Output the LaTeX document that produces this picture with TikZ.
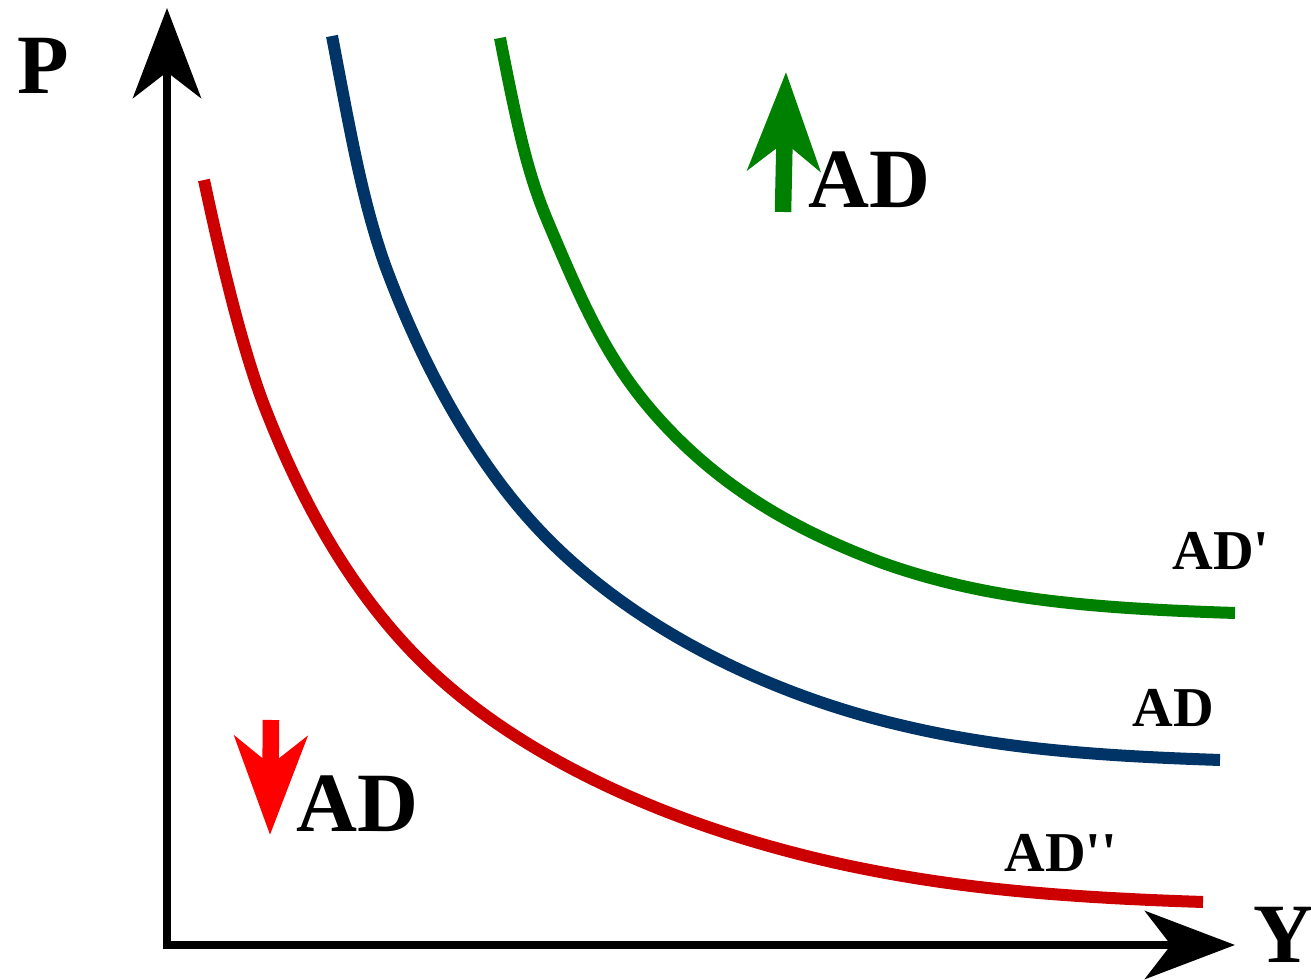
\documentclass[tikz,border=0pt]{standalone}
\usepackage{fontspec}
\setmainfont{Liberation Serif}
\usetikzlibrary{arrows.meta}
\definecolor{adgreen}{RGB}{0,128,0}
\definecolor{adblue}{RGB}{0,51,102}
\definecolor{adred}{RGB}{204,0,0}
\definecolor{shiftred}{RGB}{255,0,0}
\tikzset{
  axis/.style={line width=0.085cm, -{Stealth[length=0.9cm, width=0.68cm, inset=0.26cm]}},
  curve/.style={line width=0.12cm},
  shift arrow/.style={line width=0.165cm, -{Stealth[length=0.98cm, width=0.72cm, inset=0.28cm]}},
  big label/.style={anchor=base west, inner sep=0pt, font=\bfseries\fontsize{24}{24}\selectfont},
  curve label/.style={anchor=base west, inner sep=0pt, font=\bfseries\fontsize{16}{16}\selectfont}
}

\begin{document}
\begin{tikzpicture}[x=0.01cm, y=-0.01cm]
  \useasboundingbox (0,0) rectangle (1311,980);
  \coordinate (O) at (167,945); \coordinate (Ptip) at (167,8); \coordinate (Ytip) at (1235,945);
  % axes
  \draw[axis] (167,949) -- (Ptip);
  \draw[axis] (163,945) -- (Ytip);
  \node[big label] (P) at (17,94) {P};
  \node[big label] (Y) at (1253,963) {Y};
  % demand curves
  \draw[curve, adgreen] (500,38) .. controls (518,130) and (528,175) .. (548,222)
    .. controls (585,310) and (610,365) .. (660,420)
    .. controls (720,486) and (790,528) .. (880,562)
    .. controls (980,598) and (1080,608) .. (1235,613);
  \draw[curve, adblue] (332,36) .. controls (350,130) and (362,200) .. (385,265)
    .. controls (420,360) and (470,453) .. (530,520)
    .. controls (620,621) and (760,692) .. (900,725)
    .. controls (1000,749) and (1100,756) .. (1220,760);
  \draw[curve, adred] (204,180) .. controls (220,255) and (240,340) .. (262,400)
    .. controls (300,500) and (350,590) .. (420,660)
    .. controls (520,760) and (680,830) .. (850,866)
    .. controls (950,887) and (1050,897) .. (1203,902);
  \node[curve label] (ADup) at (1172,570) {AD\textquotesingle};
  \node[curve label] (AD) at (1132,727) {AD};
  \node[curve label] (ADdown) at (1004,872) {AD\textquotesingle\textquotesingle};
  % shifts
  \coordinate (g0) at (783,212); \coordinate (g1) at (786,72);
  \coordinate (r0) at (271,720); \coordinate (r1) at (270,835);
  \draw[shift arrow, adgreen] (g0) -- (g1);
  \draw[shift arrow, shiftred] (r0) -- (r1);
  \node[big label] (rise) at (808,208) {AD};
  \node[big label] (fall) at (296,832) {AD};
\end{tikzpicture}
\end{document}
